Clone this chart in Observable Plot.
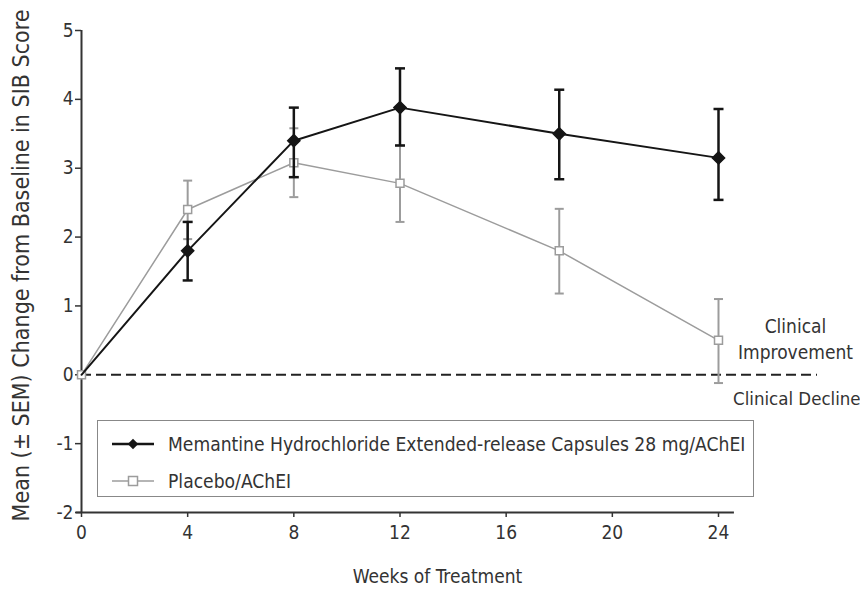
<!DOCTYPE html>
<html>
<head>
<meta charset="utf-8">
<script src="https://cdn.jsdelivr.net/npm/d3@7"></script>
<script src="https://cdn.jsdelivr.net/npm/@observablehq/plot@0.6"></script>
<style>
  html, body { margin: 0; padding: 0; background: #fff; }
  #wrap { position: relative; width: 860px; height: 594px; font-family: "DejaVu Sans Condensed", "Liberation Sans", sans-serif; color: #333; }
  #legend { position: absolute; left: 97px; top: 420px; width: 655px; height: 75px; border: 1.5px solid #888; box-sizing: content-box; }
  .row { position: absolute; left: 0; display: flex; align-items: center; height: 30px; }
  .row svg { margin-left: 14px; }
  .row span { margin-left: 14px; font-size: 19.1px; color: #333; white-space: nowrap; }
</style>
</head>
<body>
<div id="wrap"></div>
<script>
// ---- data ----
const weeks = [0, 4, 8, 12, 18, 24];
const memMean = [0, 1.8, 3.4, 3.88, 3.5, 3.15];
const memLow  = [0, 1.37, 2.87, 3.33, 2.84, 2.54];
const memHigh = [0, 2.22, 3.88, 4.45, 4.14, 3.86];
const plaMean = [0, 2.4, 3.08, 2.78, 1.8, 0.5];
const plaLow  = [0, 1.97, 2.58, 2.22, 1.18, -0.12];
const plaHigh = [0, 2.82, 3.58, 3.33, 2.41, 1.1];
const seriesNames = ["Memantine Hydrochloride Extended-release Capsules 28 mg/AChEI", "Placebo/AChEI"];
const xTicks = [0, 4, 8, 12, 16, 20, 24];
const yTicks = [-2, -1, 0, 1, 2, 3, 4, 5];
const annotations = ["Clinical\nImprovement", "Clinical Decline"];
const xLabel = "Weeks of Treatment";
const yLabel = "Mean (\u00b1 SEM) Change from Baseline in SIB Score";

const MEM = "#151515", PLA = "#9c9c9c";
const mem = weeks.map((w, i) => ({week: w, mean: memMean[i], lo: memLow[i], hi: memHigh[i]}));
const pla = weeks.map((w, i) => ({week: w, mean: plaMean[i], lo: plaLow[i], hi: plaHigh[i]}));
const memErr = mem.filter(d => d.hi !== d.lo);
const plaErr = pla.filter(d => d.hi !== d.lo);

const capSymbol = (half) => ({draw(ctx) { ctx.moveTo(-half, 0); ctx.lineTo(half, 0); }});
const font = '"DejaVu Sans Condensed", "Liberation Sans", sans-serif';
const fmt = d => String(d);

const chart = Plot.plot({
  width: 860, height: 594,
  marginLeft: 81, marginRight: 43, marginTop: 30, marginBottom: 82,
  x: {domain: [0, 27.73]},
  y: {domain: [-2, 5]},
  style: {fontFamily: font, fontSize: "19px", color: "#333", background: "white"},
  marks: [
    Plot.axisY({ticks: yTicks, tickFormat: fmt, tickSize: 6, tickPadding: 2, label: null, stroke: "#333", strokeWidth: 1.5, fontSize: 19}),
    Plot.axisX({ticks: xTicks, tickFormat: fmt, tickSize: 5, tickPadding: 8, label: null, stroke: "#333", strokeWidth: 1.5, fontSize: 19}),
    Plot.ruleX([0], {y1: -2, y2: 5, stroke: "#333", strokeWidth: 2}),
    Plot.ruleY([-2], {x1: -0.2, x2: d3.max(xTicks) + 0.6, stroke: "#333", strokeWidth: 2}),
    Plot.ruleY([0], {stroke: "#222", strokeWidth: 2, strokeDasharray: "10,5"}),
    // placebo
    Plot.ruleX(plaErr, {x: "week", y1: "lo", y2: "hi", stroke: PLA, strokeWidth: 2}),
    Plot.dot(plaErr, {x: "week", y: "lo", symbol: capSymbol(4.5), stroke: PLA, strokeWidth: 2, fill: "none"}),
    Plot.dot(plaErr, {x: "week", y: "hi", symbol: capSymbol(4.5), stroke: PLA, strokeWidth: 2, fill: "none"}),
    Plot.line(pla, {x: "week", y: "mean", stroke: PLA, strokeWidth: 1.5}),
    Plot.dot(pla, {x: "week", y: "mean", symbol: "square", r: 4.5, fill: "white", stroke: PLA, strokeWidth: 1.5}),
    // memantine
    Plot.ruleX(memErr, {x: "week", y1: "lo", y2: "hi", stroke: MEM, strokeWidth: 2.5}),
    Plot.dot(memErr, {x: "week", y: "lo", symbol: capSymbol(5), stroke: MEM, strokeWidth: 2.5, fill: "none"}),
    Plot.dot(memErr, {x: "week", y: "hi", symbol: capSymbol(5), stroke: MEM, strokeWidth: 2.5, fill: "none"}),
    Plot.line(mem, {x: "week", y: "mean", stroke: MEM, strokeWidth: 2}),
    Plot.dot(mem.slice(1), {x: "week", y: "mean", symbol: "diamond2", r: 5.5, fill: MEM, stroke: MEM}),
    // annotations
    Plot.text([annotations[0]], {x: 26.9, y: 0.54, text: d => d, textAnchor: "middle", lineHeight: 1.4, fontSize: 19, fill: "#333"}),
    Plot.text([annotations[1]], {x: 26.95, y: -0.35, text: d => d, textAnchor: "middle", fontSize: 18.5, fill: "#333"}),
    // axis titles
    Plot.text([yLabel], {frameAnchor: "left", dx: -60, dy: -6, rotate: -90, text: d => d, textAnchor: "middle", fontSize: 23, fill: "#333"}),
    Plot.text([xLabel], {frameAnchor: "bottom", dx: -12, dy: 70, text: d => d, textAnchor: "middle", fontSize: 19, fill: "#333"})
  ]
});

const wrap = document.getElementById("wrap");
wrap.appendChild(chart);

// legend (HTML overlay inside the plot frame)
const legend = document.createElement("div");
legend.id = "legend";
const rows = [
  {name: seriesNames[0], color: MEM, sym: "diamond", top: 8, sw: 2.5},
  {name: seriesNames[1], color: PLA, sym: "square", top: 45, sw: 1.5}
];
rows.forEach(r => {
  const row = document.createElement("div");
  row.className = "row";
  row.style.top = r.top + "px";
  const s = d3.create("svg").attr("width", 42).attr("height", 30);
  s.append("line").attr("x1", 0).attr("x2", 42).attr("y1", 15).attr("y2", 15).attr("stroke", r.color).attr("stroke-width", r.sw);
  if (r.sym === "diamond") {
    s.append("path").attr("transform", "translate(21,15)").attr("d", d3.symbol(d3.symbolDiamond2, 70)()).attr("fill", r.color);
  } else {
    s.append("rect").attr("x", 16.5).attr("y", 10.5).attr("width", 9).attr("height", 9).attr("fill", "white").attr("stroke", r.color).attr("stroke-width", 1.5);
  }
  row.appendChild(s.node());
  const t = document.createElement("span");
  t.textContent = r.name;
  row.appendChild(t);
  legend.appendChild(row);
});
wrap.appendChild(legend);
</script>
</body>
</html>
